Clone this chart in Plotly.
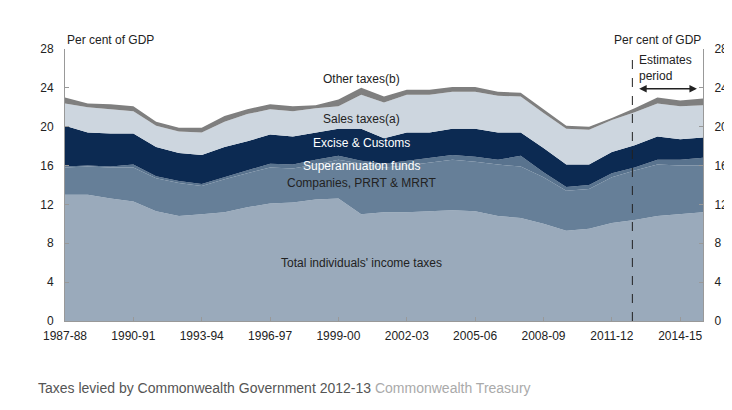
import plotly.graph_objects as go

years = [f"{y}-{str(y + 1)[-2:]}" for y in range(1987, 2016)]
tick_labels = years[::3]

# cumulative top of each band, per cent of GDP
individuals = [13.0, 13.0, 12.6, 12.3, 11.3, 10.8, 11.0, 11.2, 11.7, 12.1, 12.2, 12.5, 12.6, 11.0, 11.2,
               11.2, 11.3, 11.4, 11.3, 10.8, 10.6, 10.0, 9.3, 9.5, 10.1, 10.4, 10.8, 11.0, 11.2]
companies = [15.8, 15.9, 15.8, 15.8, 14.7, 14.2, 13.9, 14.6, 15.2, 15.8, 15.7, 16.1, 16.6, 16.2, 15.8,
             16.0, 16.3, 16.6, 16.4, 16.1, 15.9, 14.8, 13.4, 13.6, 14.8, 15.5, 16.1, 16.0, 16.0]
superann = [15.9, 16.0, 15.9, 16.1, 14.9, 14.4, 14.1, 14.8, 15.5, 16.2, 16.1, 16.6, 17.0, 16.5, 16.2,
            16.5, 16.8, 17.1, 16.9, 16.6, 17.0, 15.3, 13.8, 14.0, 15.2, 15.8, 16.6, 16.6, 16.8]
excise = [20.1, 19.4, 19.3, 19.3, 17.9, 17.3, 17.1, 17.9, 18.5, 19.2, 19.0, 19.4, 19.8, 19.8, 18.8,
          19.4, 19.4, 19.8, 19.8, 19.4, 19.4, 17.8, 16.1, 16.1, 17.4, 18.1, 19.0, 18.7, 18.9]
sales = [22.4, 22.0, 21.8, 21.6, 20.1, 19.5, 19.4, 20.5, 21.3, 21.8, 21.6, 21.9, 22.1, 23.3, 22.5,
         23.3, 23.3, 23.6, 23.6, 23.2, 23.1, 21.4, 19.8, 19.7, 20.7, 21.5, 22.4, 22.1, 22.2]
other = [23.0, 22.4, 22.3, 22.1, 20.5, 19.9, 19.9, 21.1, 21.8, 22.3, 22.1, 22.2, 22.8, 24.0, 23.1,
         23.8, 23.8, 24.1, 24.1, 23.6, 23.5, 21.8, 20.1, 20.0, 20.9, 21.9, 23.0, 22.7, 22.9]

bands = [
    ("Total individuals' income taxes", individuals, "#9aaabb", "tozeroy"),
    ("Companies, PRRT & MRRT", companies, "#667f98", "tonexty"),
    ("Superannuation funds", superann, "#59738e", "tonexty"),
    ("Excise & Customs", excise, "#0c2a52", "tonexty"),
    ("Sales taxes(a)", sales, "#cdd6df", "tonexty"),
    ("Other taxes(b)", other, "#7f7f7f", "tonexty"),
]

x = list(range(len(years)))
fig = go.Figure()
for name, vals, col, fill in bands:
    fig.add_trace(go.Scatter(x=x, y=vals, name=name, mode="lines", line=dict(width=0, color=col),
                             fill=fill, fillcolor=col, hoverinfo="name+y"))
# dummy trace for the right axis
fig.add_trace(go.Scatter(x=[0], y=[0], yaxis="y2", mode="markers", marker=dict(opacity=0),
                         showlegend=False, hoverinfo="skip"))

axis_font = dict(family="Liberation Sans Narrow, Arial Narrow, Liberation Sans", size=12, color="#222")
yax = dict(range=[0, 28], tickvals=list(range(0, 29, 4)), showgrid=False, zeroline=False,
           showline=True, linecolor="#999", ticks="inside", ticklen=4, tickcolor="#999",
           tickfont=axis_font, ticklabelstandoff=8)

fig.update_layout(
    width=732, height=410,
    margin=dict(l=57, r=27, t=41, b=97),
    plot_bgcolor="white", paper_bgcolor="white",
    showlegend=False,
    xaxis=dict(range=[0, len(years) - 1], tickvals=x[::3], ticktext=tick_labels, showgrid=False,
               zeroline=False, showline=True, linecolor="#999", ticks="inside", ticklen=4,
               tickcolor="#999", tickfont=axis_font, ticklabelstandoff=4),
    yaxis=yax,
    yaxis2=dict(yax, overlaying="y", side="right"),
    shapes=[dict(type="line", xref="x", yref="paper", x0=24.9, x1=24.9, y0=0, y1=0.985,
                 line=dict(color="#222", width=1, dash="dash"))],
)

lab = dict(family="Liberation Sans Narrow, Arial Narrow, Liberation Sans", size=12)
labels = [
    ("Other taxes(b)", 13, 24.9, "#222"),
    ("Sales taxes(a)", 13, 20.8, "#222"),
    ("Excise & Customs", 13, 18.3, "white"),
    ("Superannuation funds", 13, 16.0, "white"),
    ("Companies, PRRT & MRRT", 13, 14.2, "#222"),
    ("Total individuals' income taxes", 13, 6.0, "#222"),
]
for t, xx, yy, c in labels:
    fig.add_annotation(x=xx, y=yy, text=t, showarrow=False, font=dict(lab, color=c))

fig.add_annotation(xref="paper", yref="paper", x=0, y=1.0, xanchor="left", yanchor="bottom",
                   text="Per cent of GDP", showarrow=False, font=dict(lab, color="#222"))
fig.add_annotation(xref="paper", yref="paper", x=1, y=1.0, xanchor="right", yanchor="bottom",
                   text="Per cent of GDP", showarrow=False, font=dict(lab, color="#222"))
fig.add_annotation(x=25.1, y=26.0, xanchor="left", text="Estimates<br>period", align="left",
                   showarrow=False, font=dict(lab, color="#222"))
fig.add_annotation(x=25.2, y=23.9, ax=27.8, ay=23.9, xref="x", yref="y", axref="x", ayref="y",
                   text="", showarrow=True, arrowhead=2, arrowside="end+start", arrowsize=1,
                   arrowwidth=1.5, arrowcolor="#222")
fig.add_annotation(xref="paper", yref="paper", x=-0.045, y=-0.245, xanchor="left", yanchor="middle",
                   showarrow=False,
                   text="Taxes levied by Commonwealth Government 2012-13 "
                        "<span style='color:#aaaaaa'>Commonwealth Treasury</span>",
                   font=dict(family="Liberation Sans, Arial", size=14, color="#555"))

fig.write_html("out.html")
